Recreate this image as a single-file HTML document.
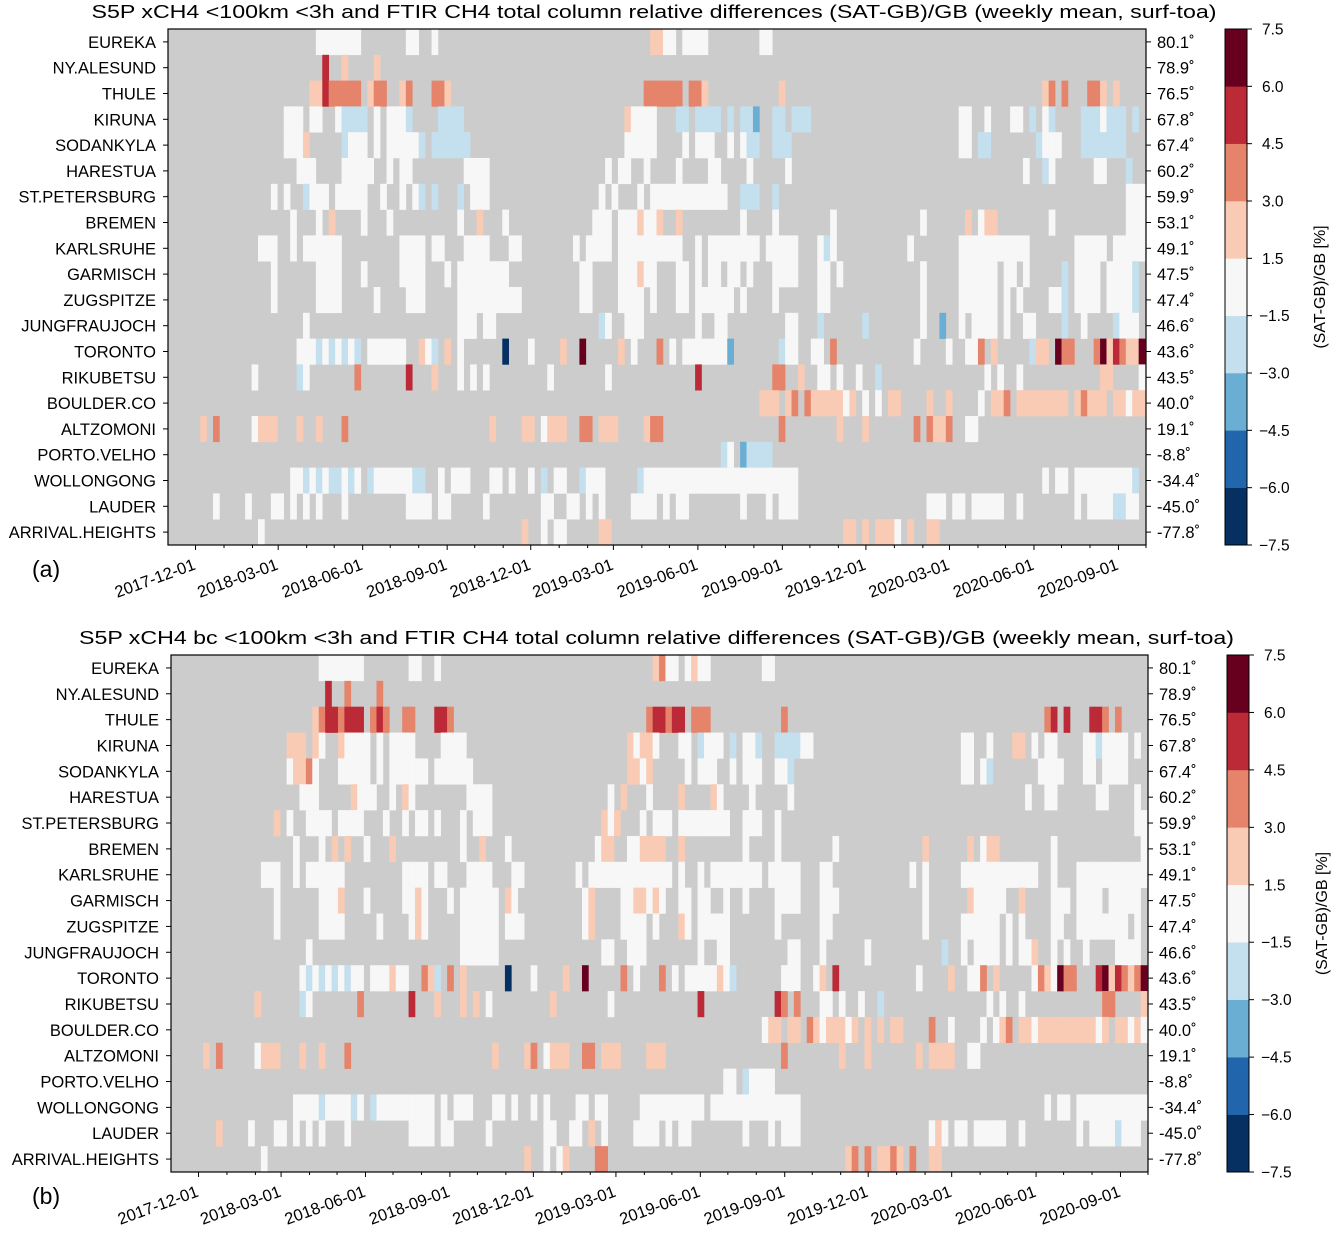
<!DOCTYPE html>
<html><head><meta charset="utf-8"><style>
body{margin:0;background:#fff}
svg{display:block}
text{font-family:"Liberation Sans","DejaVu Sans",sans-serif;fill:#000}
</style></head><body>
<svg id="chart" width="1332" height="1234" viewBox="0 0 1332 1234" xmlns="http://www.w3.org/2000/svg">
<g id="panelA"></g>
<g id="panelB"></g>
</svg>
<script>
const stations = ["EUREKA","NY.ALESUND","THULE","KIRUNA","SODANKYLA","HARESTUA","ST.PETERSBURG","BREMEN","KARLSRUHE","GARMISCH","ZUGSPITZE","JUNGFRAUJOCH","TORONTO","RIKUBETSU","BOULDER.CO","ALTZOMONI","PORTO.VELHO","WOLLONGONG","LAUDER","ARRIVAL.HEIGHTS"];
const latitudes = ["80.1","78.9","76.5","67.8","67.4","60.2","59.9","53.1","49.1","47.5","47.4","46.6","43.6","43.5","40.0","19.1","-8.8","-34.4","-45.0","-77.8"];
const codeValues = {N:-6.8,B:-3.7,b:-2.2,w:0,p:2.2,o:3.7,r:5.2,D:6.8};
const rowsA = [
"w23-29 w37-38 w41 p75-76 w77-78 w80-83 w92-93",
"r24 p27 p32",
"p22-23 r24 o25-29 p31 o32-33 p36 o37 o41-42 p43 o74-79 o81-82 p83 p95 p136 o137 o139 o143-144 p145 p147",
"w18-20 w22-23 w26 b27-30 w32 w34-36 b37 b42-45 p71 w72-75 b79-80 b82-85 b87 b89-90 B91 b94-95 b97-99 w123-124 w127 w131-132 b134 w136 b137 b142-144 w145 b146-148 b150",
"w18-20 p21 b27 w28-30 w32 w34-38 b39 b41-46 w71-75 w80 w82-84 w87 w89 b90-91 b94-96 w123-124 b126-127 b135 w136-138 b142-144 b145-148",
"w20-22 w27-31 w34 w36-37 w46-49 w68 w70-71 w74 w79 w84-85 w90 w96 w133 b136 w137 w144-145 b149",
"w16 w18 b21 w22-24 w26-30 w33 w36 w38 b39 b41 b45 w47-49 w67 w69 w73 w75-78 w79-86 b89-91 b94 w149-151",
"w19 w23 p25 w30 w34 w45 p48 w52 w66-68 w70-72 p73 w74-75 p76 p79 w89 w94 w103 w117 p124 w126 p127-128 w137 w149-151",
"w14-16 w19 w21-26 w36-39 w41-42 w46-49 w53-54 w63 w65-68 w70-78 w79 w82 w84-91 w93-97 w101 b102 w103 w115 w123-131 w132-133 w141-145 w147-151",
"w16 w23-26 w30 w36-39 w43 w45-51 w52 w64-65 w70-72 p73 w74-75 w79-80 w82 w84-85 w87-88 w90 w94-97 w101-102 w104 w117 w123-128 w130-131 w133 b139 w141-144 w146-149 b150",
"w16 w23-26 w32 w37-39 w45-51 w52-54 w64-65 w70-73 w75 w79-80 w82-87 w89 w94 w101-102 w117 w123-128 w130 w132 w137-138 b139 w141-144 w146-149 b150",
"w21 w45-47 w49-50 b67 w68 w71-73 w82 w85-86 w96-97 b101 b108 w117 B120 w123 w125-128 w130 w133-134 b139 w142 b147 w148-150",
"w20-22 b23 w24 b25 w26 b27 w28 b29 w31-36 p39 w40 b41 p43 w45 N52 w56 p61 D64 p70 w72 o76 w78 w80-86 B87 b95 w96-97 w100-101 o103 w116 w121 w124-125 o126 p128 b134 p135-136 D138 o139-140 o144 D145 p146 r147 o148 p149-150 D151",
"w13 b20 w21 o29 r37 p41 w45 w47 w49 w59 w68 r82 o94-95 p98 w101-102 w104 w107 b110 w127 w129 w132 p145-146 w151",
"p92-94 p96 o97 o99 p100-104 w105 p106 w108 w110 p112-113 p118 p121 w126 p128-129 o130 p132-139 p141 o142 p143-145 p147-148 w149 p150-151",
"p5 o7 w13 p14-16 p20 p23 o27 p50 p55-56 w58 p59-61 o64-65 p67-69 p74 o75-76 o95 p104 p108 o116 o118 p119-120 o121 w124-125",
"b86 w87 B89 b90-93",
"w19-20 b21 w22 b23 w24 b25-26 w27 b28 w29 b31 w32-37 b38-39 w42 w44-46 w50-51 w53 w56 b58 w60-61 b64 w65-67 b73 w74-75 w76-83 w84-97 w136 w138-139 w141-149 b150",
"w7 w12 w16-17 w19 w21 w23 w27 w37-40 w42-43 w49 w58-59 w62-63 w65 w67 w72-75 w77 w79-80 w89 w93 w95-97 w118-120 w122-123 w125-129 w132 w141 w143-146 b147-148 w149-150",
"w14 p55 w58 w60-61 p67-68 p105-106 p108 p110-112 w113 p115 p118-119"
];
const rowsB = [
"w23-29 w37-38 w41 p75 o76 w77-78 w80 p81 w82-83 w92-93",
"r24 o27 o32",
"p22 o23 r24-25 o26 r27-29 o31 r32 o33 o36-37 r41-42 o43 o74 r75-76 o77 r78-79 o81-83 o95 o136 r137 r139 r143-144 o145 o147",
"p18-20 p22 w23 p26 w27-30 w32 w34-37 w42-45 p71 w72 p73-74 w75 w79-80 b82 w83-85 b87 w89-90 b91 b94-96 b97 w98-99 w123-124 w127 p131-132 w134 w136-137 w142-143 b144 w145-148 w150",
"w18 p19-20 o21 w22 w26-30 w32 w34-39 w41-46 p71-72 w73 p74 w80 w82-84 w87 w89-91 w94-95 b96 w123-124 w126 b127 w135-138 w142-143 w145-148",
"w20-22 p28 w29-31 w34 p36 w37 w46-49 w68 p70 w74 p79 p84 w85 w90 w96 w133 w136-137 w144-145 w150",
"p16 w18 w21-24 w26-29 w33 w36 w38-39 w41 w45 w47-49 p67 w68 p69 w73 w75-77 w79-86 w89-91 w94 w150-151",
"w19 w23 p25 p27 w30 p34 w45 p48 w52 w66 p67-68 w71-72 p73-76 p79 w89 w94 w103 p117 p124 w126 p127-128 w137 w151",
"w14-16 w19 w21-26 w36-39 w41-42 w46-49 w53-54 w63 w65-77 w79 w82 w84-91 w93-97 w101-102 w115 w117 w123-131 w132-134 w137 w141-146 w147-151",
"w16 w23-25 p26 w30 w36-37 p38 w39 w43 w45-50 p52 w53 w64 p65 w70-71 p72-73 w74 p75 w76 w79-80 w82-83 w86 w89 w94-97 w101-103 w117 p124 w125-129 p132 w137-139 w141-144 w146-150",
"w16 w23-26 w32 w37 p38 w39 w45-50 w52-54 w64 p65 w70-73 w75 p79 w80 w82-86 w94 w101-102 w117 w123-128 w130 w132 w137-138 w141-148 w150",
"w21 w45-48 w49-50 w67-68 w71-73 w82 w85-86 w96-97 w101 w108 b120 w123 w125-128 w130 w132-133 p134 w137 w139 w142 w147-150",
"w20 b21 w22 b23 w24 b25 w26 b27 w28-29 w31-33 p34 w35-36 o39 p40 b41 o43 p45 N52 w56 p61 D64 o70 w72 o76 w78 w80-84 p85 w86 b87 w95-97 w100 p101 r103 w116 p121 w124-125 o126 p128 w134 o135 p136 w137 D138 o139-140 r144 D145 p146 r147 o148 p149 o150 D151",
"p13 b20 w21 o29 r37 p41 p45 p47 w49 p59 w68 r82 r94 o95 o97 w101-102 w104 w107 b110 w127 w129 w132 o145-146 p151",
"w92 p93-94 p96-97 o99 p100 w101 p102-104 w105 p106 p108 p110 p112-113 o118 w121 w126 w128 p129 o130 p132-133 w134 p135-140 p141-143 w144 p145 p147-148 w149 p150 w151",
"p5 o7 w13 p14-16 p20 p23 o27 p50 p55 o56 w58 p59-61 o64-65 p67-69 p74-76 o95 p104 p108 p116 p118-121 w124-125",
"w86-87 b89 w90-93",
"w19-22 b23 w24-27 b28 w29 b31 w32-40 w42 w44-46 w50-51 w53 w56 w58 w63-64 w66-67 w73-75 w76-82 w84-97 w136 w138-139 w141-151",
"p7 w12 w16-17 w19 w21 w23 w27 w37-40 w42-43 w49 w58-59 w62-63 p65 w67 w72-75 w77 w79-80 w89 w93 w95-97 w118 p119 w120 w122-123 w125-129 w132 w141 w143-146 b147 w148-150",
"w14 p55 w58 w60 p61 o66-67 p105 o106 o108 p110-111 o112 p113 o115 p118-119"
];
const colorBounds = [-7.5,-6,-4.5,-3,-1.5,1.5,3,4.5,6,7.5];
const binColors = ["#053061","#2166ac","#6aaed3","#c4dfed","#f7f7f7","#f9cbb4","#e5846a","#bb2a36","#67001f"];
const cbarLabels = ["7.5","6.0","4.5","3.0","1.5","\u22121.5","\u22123.0","\u22124.5","\u22126.0","\u22127.5"];
const majorTickLabels = ["2017-12-01","2018-03-01","2018-06-01","2018-09-01","2018-12-01","2019-03-01","2019-06-01","2019-09-01","2019-12-01","2020-03-01","2020-06-01","2020-09-01"];
const titleA = "S5P xCH4 <100km <3h and FTIR CH4 total column relative differences (SAT-GB)/GB (weekly mean, surf-toa)";
const titleB = "S5P xCH4 bc <100km <3h and FTIR CH4 total column relative differences (SAT-GB)/GB (weekly mean, surf-toa)";

const NS="http://www.w3.org/2000/svg";
const START=Date.UTC(2017,10,1), END=Date.UTC(2020,9,1), DAY=86400000, NCOLS=152;
function mk(tag,attrs,parent){const e=document.createElementNS(NS,tag);for(const k in attrs)e.setAttribute(k,attrs[k]);parent.appendChild(e);return e;}
function colorOf(v){for(let i=0;i<binColors.length;i++){if(v<colorBounds[i+1])return binColors[i];}return binColors[binColors.length-1];}
function parseRow(s){const vals=new Array(NCOLS).fill(null);s.trim().split(/\s+/).forEach(t=>{const c=t[0];const r=t.slice(1).split('-');const a=+r[0],b=r.length>1?+r[1]:a;for(let i=a;i<=b;i++)if(i<NCOLS)vals[i]=codeValues[c];});return vals;}

function drawPanel(g,P){
  const xOf=d=>P.x+(d-START)/(END-START)*P.w;
  const rh=P.h/stations.length;
  const title=mk('text',{x:P.x+P.w/2-3,y:P.titleY,'text-anchor':'middle','font-size':18.5,textLength:P.titleLen,lengthAdjust:'spacingAndGlyphs'},g);
  title.textContent=P.title;
  
  
  const bg=mk('rect',{x:P.x,y:P.y,width:P.w,height:P.h,fill:'#cccccc'},g);
  
  
  const cells=mk('g',{},g);
  
  
  P.rows.forEach((rs,ri)=>{
    const vals=parseRow(rs);
    vals.forEach((v,ci)=>{
      if(v===null)return;
      const x0=xOf(START+ci*7*DAY), x1=Math.min(xOf(START+(ci+1)*7*DAY),P.x+P.w);
      const r=mk('rect',{x:x0,y:P.y+ri*rh,width:x1-x0+0.3,height:rh+0.3,fill:colorOf(v)},cells);
      
      
    });
  });
  const frame=mk('rect',{x:P.x,y:P.y,width:P.w,height:P.h,fill:'none',stroke:'#000','stroke-width':1.2},g);
  
  
  stations.forEach((s,i)=>{
    const cy=P.y+(i+0.5)*rh;
    mk('line',{x1:P.x-5,x2:P.x,y1:cy,y2:cy,stroke:'#000','stroke-width':1},g);
    mk('line',{x1:P.x+P.w,x2:P.x+P.w+5,y1:cy,y2:cy,stroke:'#000','stroke-width':1},g);
    const t=mk('text',{x:P.x-12,y:cy+6,'text-anchor':'end','font-size':16.5},g);
    t.textContent=s;
    
    
    const t2=mk('text',{x:P.x+P.w+11,y:cy+6,'font-size':16.5},g);
    t2.textContent=latitudes[i]+"\u02da";
    
    
  });
  for(let y=2017,m=11;;){
    const d=Date.UTC(y,m,1); if(d>END)break;
    const x=xOf(d);
    const major=((m-11)%3+3)%3===0;
    mk('line',{x1:x,x2:x,y1:P.y+P.h,y2:P.y+P.h+(major?5:3),stroke:'#000','stroke-width':1},g);
    m++; if(m>11){m=0;y++;}
  }
  majorTickLabels.forEach(lbl=>{
    const p=lbl.split('-');
    const x=xOf(Date.UTC(+p[0],+p[1]-1,+p[2]));
    const ty=P.y+P.h+24;
    const t=mk('text',{x:x+1,y:ty,'text-anchor':'end','font-size':16.5,transform:`rotate(-20 ${x+1} ${ty})`},g);
    t.textContent=lbl;
    
    
  });
  const pl=mk('text',{x:32,y:P.panelLabelY,'font-size':23},g);
  pl.textContent=P.panelLabel;
  
  
  const cb=mk('g',{},g);
  
  
  const segH=P.h/binColors.length;
  binColors.forEach((c,i)=>{
    mk('rect',{x:P.cbx,y:P.y+P.h-(i+1)*segH,width:22,height:segH+0.3,fill:c},cb);
  });
  mk('rect',{x:P.cbx,y:P.y,width:22,height:P.h,fill:'none',stroke:'#000','stroke-width':1},cb);
  cbarLabels.forEach((l,i)=>{
    const yy=P.y+i*segH;
    mk('line',{x1:P.cbx+22,x2:P.cbx+27,y1:yy,y2:yy,stroke:'#000','stroke-width':1},cb);
    const t=mk('text',{x:P.cbx+(l[0]==='\u2212'?34:37),y:yy+5.5,'font-size':15.5},cb);
    t.textContent=l;
    
    
  });
  const cy=P.y+P.h/2;
  const cl=mk('text',{x:P.cbx+100,y:cy,'text-anchor':'middle','font-size':16,transform:`rotate(-90 ${P.cbx+100} ${cy})`},cb);
  cl.textContent="(SAT-GB)/GB [%]";
  
  
}
drawPanel(document.getElementById('panelA'),{x:168,y:29,w:978,h:516,rows:rowsA,title:titleA,titleY:18,titleLen:1125,panelLabel:"(a)",panelLabelY:577,cbx:1225});
drawPanel(document.getElementById('panelB'),{x:171,y:655,w:977,h:517,rows:rowsB,title:titleB,titleY:644,titleLen:1155,panelLabel:"(b)",panelLabelY:1204,cbx:1227});
</script>
</body></html>
